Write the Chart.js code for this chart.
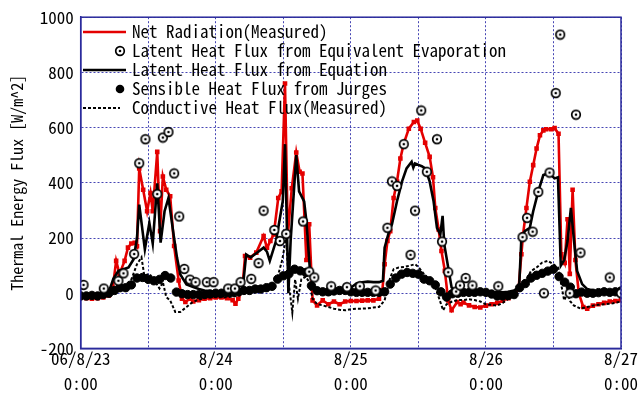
<!DOCTYPE html>
<html>
<head>
<meta charset="utf-8">
<script src="https://cdn.jsdelivr.net/npm/chart.js@4"></script>
<style>
  html, body { margin: 0; padding: 0; background: #fff; }
  canvas { display: block; }
</style>
</head>
<body>
<canvas id="fluxChart" width="644" height="398"></canvas>
<script>
// time axis is in hours from 06/8/23 0:00
const dayLabels = ['06/8/23', '8/24', '8/25', '8/26', '8/27'];
const timeLabel = '0:00';

// [hour, W/m^2]
const netRadiation = [
  [0,-15],[1,-18],[2,-20],[3,-18],[4,-15],[5,-8],[5.7,20],[6.3,117],[6.9,70],[7.8,117],[8.4,165],[9,180],[9.6,183],[10,170],
  [10.4,452],[11.1,375],[11.8,297],[12.4,363],[12.8,297],[13.6,512],[14.1,225],[14.6,423],[15.2,375],[15.9,351],[16.6,171],
  [17.4,46],[18,-20],[18.6,-32],[19.4,-20],[20,-30],[21,-25],[22,-20],[23,-18],[24,-15],[25,-15],[26,-18],[27,-25],[27.5,-38],
  [28,-20],[28.7,10],[29.2,135],[30.1,129],[31.2,147],[32.5,207],[33.1,165],[33.7,189],[34.3,213],[35.1,345],[35.7,369],
  [36.3,760],[36.8,210],[37.5,380],[38.3,510],[38.9,440],[39.4,434],[40.1,120],[40.6,250],[41.2,-26],[42,-44],[43,-26],
  [44,-40],[45,-30],[46,-40],[47,-30],[48,-28],[49,-28],[50,-27],[51,-26],[52,-26],[53,-20],[53.6,10],[54,105],[54.5,189],
  [55,225],[55.6,345],[56.2,405],[56.8,488],[57.4,542],[58.3,596],[59.2,620],[59.8,626],[60.4,596],[61.2,545],[62,494],
  [62.6,420],[63,309],[63.6,231],[64.1,153],[64.7,81],[65.3,-26],[65.9,-62],[66.9,-32],[67.5,-40],[68,-34],[69,-44],[70,-50],
  [71,-52],[72,-45],[73,-40],[74,-35],[75,-27],[76,-18],[77,-5],[77.8,15],[78.3,141],[78.6,213],[79.2,309],[79.8,404],
  [80.4,464],[81,524],[81.6,572],[82.2,590],[82.7,594],[83.6,594],[84.2,598],[84.9,578],[85.4,141],[86,110],[86.5,268],
  [86.9,70],[87.4,375],[87.9,120],[88.5,0],[89.3,-50],[90,-56],[91,-45],[92,-40],[93,-35],[94,-30],[95,-28],[96,-25]
];

const latentEvaporation = [
  [0.5,30],[4.1,17],[6.7,45],[7.6,72],[9.5,142],[10.4,471],[11.5,558],[13.6,359],[14.6,564],[15.6,584],[16.6,434],
  [17.5,278],[18.4,88],[19.4,49],[20.4,40],[22.4,40],[23.6,40],[26.2,17],[27.4,17],[28.4,40],[30.3,52],[31.6,109],
  [32.5,299],[34.4,229],[35.4,189],[36.5,215],[39.5,260],[40.6,78],[41.5,57],[44.5,25],[47.3,22],[49.6,25],[52.4,10],
  [54.5,237],[55.3,405],[56.2,389],[57.4,540],[58.6,139],[59.4,299],[60.5,662],[61.5,440],[63.3,558],[64.2,187],
  [65.3,76],[66.7,6],[67.4,28],[68.4,55],[69.6,28],[74.2,25],[78.5,203],[79.3,273],[80.3,223],[81.3,367],[82.3,0],
  [83.3,437],[84.4,725],[85.2,937],[86.9,0],[88,647],[88.8,147],[94,57],[96,0]
];

const latentEquation = [
  [0,-5],[1,-8],[2,-10],[3,-8],[4,-5],[5,5],[5.8,52],[6.7,81],[7.6,87],[8.5,93],[9.4,123],[10,200],[10.4,321],[11.4,159],
  [12.2,255],[12.8,180],[13.6,398],[14.2,183],[14.9,297],[15.6,345],[16.5,213],[17.1,130],[17.7,68],[18.8,32],[20,22],
  [21,15],[22,10],[23,8],[24,5],[25,3],[26,0],[27,0],[28,0],[28.8,20],[29.4,140],[30.2,130],[31.2,145],[32.5,165],
  [33.1,150],[33.6,117],[34.7,189],[35.3,261],[35.9,333],[36.3,540],[36.9,0],[37.3,190],[38.3,500],[38.8,369],[39.7,333],
  [40.1,261],[40.7,93],[41.3,33],[42,5],[43,0],[44,-5],[45,0],[46,5],[47,10],[48,20],[49,35],[50,40],[51,42],[52,40],
  [53,40],[53.7,45],[54,165],[54.8,225],[55.3,249],[56.2,333],[57.1,405],[57.9,452],[58.8,476],[59.1,455],[59.4,470],
  [60,465],[60.6,460],[61.2,452],[62,405],[62.7,333],[63.3,237],[63.9,213],[64.3,280],[64.6,177],[65.4,81],[65.9,21],
  [66.9,3],[68,0],[69,0],[70,0],[71,0],[72,2],[73,3],[74,3],[75,3],[76,5],[77,10],[77.9,21],[78.3,201],[78.9,225],
  [79.8,237],[80.4,297],[81.3,369],[82.2,428],[83,434],[83.6,428],[84.2,416],[84.8,420],[85.3,100],[85.9,120],[86.5,189],
  [87.1,309],[87.6,201],[88.2,81],[89.1,33],[90,15],[91,10],[92,5],[93,8],[94,5],[95,8],[96,10]
];

// hourly, index = hour
const sensibleJurges = [
  -10,-10,-8,-10,-5,0,10,20,20,30,
  55,57,50,45,50,64,55,4,-2,-5,
  -5,-5,-5,-3,0,0,2,3,5,10,
  10,15,15,20,25,51,63,70,87,81,
  75,27,9,5,5,8,10,10,5,3,
  3,3,3,3,5,33,55,69,75,72,
  69,51,45,30,5,-14,-2,0,3,3,
  3,5,3,-3,-10,-10,-8,-5,20,35,
  55,65,72,80,87,60,40,22,-2,4,
  0,0,2,5,3,5,8
];

const conductive = [
  [0,-10],[1,-12],[2,-15],[3,-12],[4,-10],[5,-5],[6,10],[7,20],[8,30],[9,50],[10,105],[10.8,130],[11.3,64],[12.2,70],
  [13,50],[14,17],[14.6,40],[15.2,-14],[15.9,-26],[16.8,-68],[17.7,-68],[18.8,-50],[19.7,-35],[20.6,-26],[21.5,-20],
  [22.4,-14],[23,-12],[24,-15],[25,-15],[26,-15],[27,-12],[28,-10],[29,0],[30,10],[31,15],[32,20],[33,20],[34,30],
  [35,60],[35.8,120],[36.5,200],[37,30],[37.6,-70],[38.1,50],[38.6,-20],[39.2,50],[40,60],[40.6,40],[41.2,-20],[42,-40],
  [43,-44],[44,-50],[45,-56],[46,-60],[47,-62],[48,-58],[49,-56],[50,-56],[51,-55],[52,-52],[53,-50],[54,-26],[55,57],
  [55.6,87],[56.5,93],[57.5,95],[58.5,100],[59.4,105],[60,95],[61,69],[62,50],[63,22],[63.8,-26],[64.4,-62],[65,-40],
  [66,-30],[67,-25],[68,-25],[69,-22],[70,-25],[71,-30],[72,-40],[73,-42],[74,-45],[75,-35],[76,-20],[77,-5],[78,15],
  [79,40],[80,80],[81,93],[82,111],[83,117],[84,105],[84.8,93],[85.3,40],[85.9,-26],[86.5,0],[87,-30],[87.6,-44],
  [88.8,-56],[90,-50],[91,-45],[92,-42],[93,-40],[94,-38],[95,-35],[96,-30]
];

const FONT = "'Noto Sans Mono CJK JP', 'DejaVu Sans Mono', monospace";
const gridBlue = '#4646b4';
const frameBlue = '#2a2a9c';

const toXY = arr => arr.map(p => ({ x: p[0], y: p[1] }));

// ⊙ marker
function makeRing() {
  const c = document.createElement('canvas');
  c.width = 12; c.height = 12;
  const g = c.getContext('2d');
  g.fillStyle = '#fff';
  g.strokeStyle = '#000';
  g.lineWidth = 1.7;
  g.beginPath(); g.arc(6, 6, 4.3, 0, Math.PI * 2); g.fill(); g.stroke();
  g.fillStyle = '#000';
  g.beginPath(); g.arc(6, 6, 1.3, 0, Math.PI * 2); g.fill();
  return c;
}
const ring = makeRing();

// frame drawn solid round the plot
const framePlugin = {
  id: 'frame',
  afterDraw(chart) {
    const a = chart.chartArea, ctx = chart.ctx;
    ctx.save();
    ctx.strokeStyle = frameBlue;
    ctx.lineWidth = 1.5;
    ctx.strokeRect(a.left, a.top, a.right - a.left, a.bottom - a.top);
    ctx.restore();
  }
};

// legend sits inside the plot, top left
const legendPlugin = {
  id: 'insideLegend',
  afterDatasetsDraw(chart) {
    const ctx = chart.ctx;
    ctx.save();
    ctx.font = '17px ' + FONT;
    ctx.textBaseline = 'middle';
    chart.data.datasets.forEach((ds, i) => {
      const y = 32 + i * 19;
      if (ds.showLine) {
        ctx.strokeStyle = ds.borderColor;
        ctx.lineWidth = ds.borderWidth;
        ctx.setLineDash(ds.borderDash || []);
        ctx.beginPath();
        ctx.moveTo(83, y);
        ctx.lineTo(ds.borderDash ? 120 : 126, y);
        ctx.stroke();
        ctx.setLineDash([]);
      } else if (ds.pointStyle === ring) {
        ctx.drawImage(ring, 120 - 6, y - 6);
      } else {
        ctx.fillStyle = '#000';
        ctx.beginPath(); ctx.arc(120, y, 4.3, 0, Math.PI * 2); ctx.fill();
      }
      ctx.fillStyle = '#000';
      ctx.fillText(ds.label, 132, y);
    });
    ctx.restore();
  }
};

new Chart(document.getElementById('fluxChart'), {
  type: 'scatter',
  data: {
    datasets: [
      {
        label: 'Net Radiation(Measured)',
        data: toXY(netRadiation),
        showLine: true,
        borderColor: '#e40000',
        backgroundColor: '#e40000',
        borderWidth: 2.6,
        pointStyle: 'rect',
        pointRadius: 1.4,
        order: 4
      },
      {
        label: 'Latent Heat Flux from Equivalent Evaporation',
        data: toXY(latentEvaporation),
        showLine: false,
        pointStyle: ring,
        order: 0
      },
      {
        label: 'Latent Heat Flux from Equation',
        data: toXY(latentEquation),
        showLine: true,
        borderColor: '#000',
        borderWidth: 2.6,
        pointRadius: 0,
        order: 2
      },
      {
        label: 'Sensible Heat Flux from Jurges',
        data: sensibleJurges.map((v, h) => ({ x: h, y: v })),
        showLine: false,
        backgroundColor: '#000',
        borderColor: '#000',
        pointRadius: 4.2,
        order: 1
      },
      {
        label: 'Conductive Heat Flux(Measured)',
        data: toXY(conductive),
        showLine: true,
        borderColor: '#000',
        borderWidth: 2,
        borderDash: [3, 2],
        pointRadius: 0,
        order: 3
      }
    ]
  },
  options: {
    responsive: false,
    animation: false,
    layout: { padding: { top: 14, right: 23, left: 0, bottom: 0 } },
    plugins: {
      legend: { display: false },
      tooltip: { enabled: false }
    },
    scales: {
      x: {
        type: 'linear',
        min: 0,
        max: 96,
        afterFit: s => { s.height = 49.6; },
        afterBuildTicks: s => {
          s.ticks = [0, 12, 24, 36, 48, 60, 72, 84, 96].map(v => ({ value: v }));
        },
        ticks: {
          color: '#000',
          padding: -2,
          maxRotation: 0,
          autoSkip: false,
          font: { family: FONT, size: 17, lineHeight: 1.45 },
          callback: v => (v % 24 === 0 ? [dayLabels[v / 24], timeLabel] : '')
        },
        grid: { color: gridBlue, lineWidth: 1, drawTicks: false },
        border: { color: frameBlue, width: 1.5, dash: [2, 2] }
      },
      y: {
        min: -200,
        max: 1000,
        afterFit: s => { s.width = 80.7; },
        ticks: {
          stepSize: 200,
          color: '#000',
          padding: 7,
          font: { family: FONT, size: 17 },
          callback: v => String(v)
        },
        grid: { color: gridBlue, lineWidth: 1, drawTicks: false },
        border: { color: frameBlue, width: 1.5, dash: [2, 2] },
        title: {
          display: true,
          text: 'Thermal Energy Flux [W/m^2]',
          color: '#000',
          padding: { top: 7, bottom: 0 },
          font: { family: FONT, size: 16 }
        }
      }
    }
  },
  plugins: [framePlugin, legendPlugin]
});
</script>
</body>
</html>
